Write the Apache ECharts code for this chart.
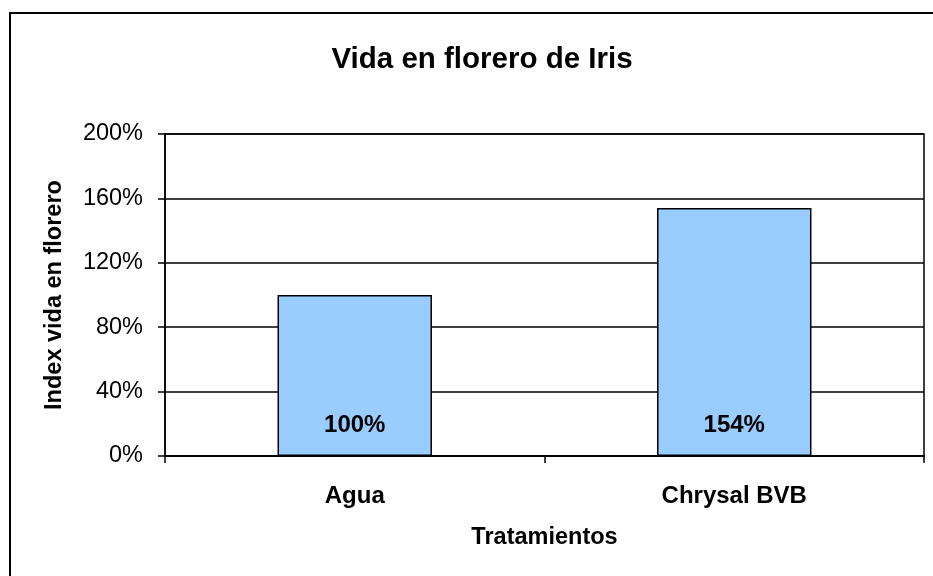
<!DOCTYPE html>
<html>
<head>
<meta charset="utf-8">
<script src="https://cdn.jsdelivr.net/npm/echarts@6/dist/echarts.min.js"></script>
<style>html,body{margin:0;padding:0;background:#fff}#c{width:933px;height:576px}</style>
</head>
<body>
<div id="c"></div>
<script>
var categories = ['Agua', 'Chrysal BVB'];
var values = [100, 154];
var labelTexts = ['100%', '154%'];
var yTicks = [0, 40, 80, 120, 160, 200];

var chart = echarts.init(document.getElementById('c'));
var font = 'Arial, "Liberation Sans", sans-serif';
chart.setOption({
  backgroundColor: '#ffffff',
  animation: false,
  graphic: [{
    type: 'rect', shape: {x: 10, y: 13, width: 940, height: 600},
    style: {fill: 'none', stroke: '#000', lineWidth: 2}, silent: true, z: -1
  }],
  title: {
    text: 'Vida en florero de Iris', left: 477, top: 40, textAlign: 'center',
    textStyle: {fontFamily: font, fontSize: 29.5, fontWeight: 'bold', color: '#000'}
  },
  grid: {left: 165, right: 9, top: 134, bottom: 120, show: true, borderColor: '#000', borderWidth: 1.5, backgroundColor: '#fff'},
  xAxis: {
    type: 'category', data: categories,
    name: 'Tratamientos', nameLocation: 'middle', nameGap: 70,
    nameTextStyle: {fontFamily: font, fontSize: 23.5, fontWeight: 'bold', color: '#000'},
    axisLine: {lineStyle: {color: '#000', width: 1.5}},
    axisTick: {show: true, length: 7, lineStyle: {color: '#000', width: 1.5}},
    axisLabel: {fontFamily: font, fontSize: 24, fontWeight: 'bold', color: '#000', margin: 28}
  },
  yAxis: {
    type: 'value', min: 0, max: 200, interval: 40,
    name: 'Index vida en florero', nameLocation: 'middle', nameGap: 98, nameRotate: 90,
    nameTextStyle: {fontFamily: font, fontSize: 23.5, fontWeight: 'bold', color: '#000'},
    axisLine: {show: true, lineStyle: {color: '#000', width: 1.5}},
    axisTick: {show: true, length: 7, lineStyle: {color: '#000', width: 1.5}},
    axisLabel: {fontFamily: font, fontSize: 23.5, color: '#000', margin: 22,
      formatter: function (v) { return yTicks.indexOf(v) >= 0 ? v + '%' : ''; }},
    splitLine: {show: true, lineStyle: {color: '#000', width: 1.5}}
  },
  series: [{
    type: 'bar', data: values, barWidth: '40.7%',
    itemStyle: {color: '#99CCFF', borderColor: '#000', borderWidth: 1.5},
    label: {show: true, position: 'insideBottom', distance: 19,
      fontFamily: font, fontSize: 24, fontWeight: 'bold', color: '#000',
      formatter: function (p) { return labelTexts[p.dataIndex]; }}
  }]
});
</script>
</body>
</html>
